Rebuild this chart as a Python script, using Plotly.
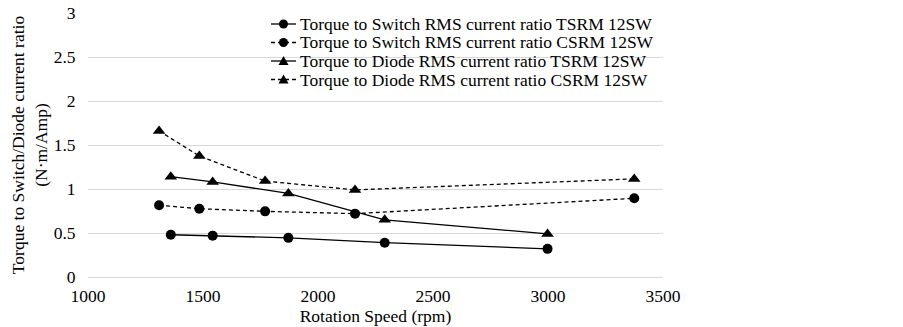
import plotly.graph_objects as go

x_tsrm = [1360, 1542, 1871, 2290, 2998]
x_csrm = [1309, 1484, 1770, 2161, 3375]
sw_tsrm = [0.48, 0.47, 0.445, 0.39, 0.32]
sw_csrm = [0.815, 0.776, 0.746, 0.72, 0.894]
di_tsrm = [1.14, 1.08, 0.95, 0.65, 0.49]
di_csrm = [1.66, 1.375, 1.09, 0.99, 1.115]

names = [
    "Torque to Switch RMS current ratio TSRM 12SW",
    "Torque to Switch RMS current ratio CSRM 12SW",
    "Torque to Diode RMS current ratio TSRM 12SW",
    "Torque to Diode RMS current ratio CSRM 12SW",
]

FONT = "Times New Roman, Liberation Serif, serif"
FS = 17.5
DASH = "4px,3px"
fig = go.Figure()
series = [
    (x_tsrm, sw_tsrm, "solid", "circle", 10),
    (x_csrm, sw_csrm, DASH, "circle", 10),
    (x_tsrm, di_tsrm, "solid", "triangle-up", 11),
    (x_csrm, di_csrm, DASH, "triangle-up", 11),
]
for (xs, ys, dash, sym, sz), nm in zip(series, names):
    fig.add_trace(go.Scatter(
        x=xs, y=ys, name=nm, mode="lines+markers",
        line=dict(color="black", width=1.3, dash=dash),
        marker=dict(color="black", symbol=sym, size=sz),
        showlegend=False,
    ))

# custom legend (compact rows like the reference)
L, R, T, B = 88, 240, 13, 50
W, H = 903 - L - R, 327 - T - B
def px(xp):
    return (xp - L) / W
def py(yp):
    return (327 - B - yp) / H

row_y = [24, 42.5, 61, 79.5]
shapes, annos = [], []
for (xs, ys, dash, sym, sz), nm, ry in zip(series, names, row_y):
    shapes.append(dict(type="line", xref="paper", yref="paper",
                       x0=px(271), x1=px(296), y0=py(ry), y1=py(ry),
                       line=dict(color="black", width=1.3, dash=dash)))
    if sym == "circle":
        shapes.append(dict(type="circle", xref="paper", yref="paper",
                           xsizemode="pixel", ysizemode="pixel",
                           xanchor=px(283.5), yanchor=py(ry),
                           x0=-4.5, x1=4.5, y0=-4.5, y1=4.5,
                           fillcolor="black", line=dict(color="black", width=0)))
    else:
        shapes.append(dict(type="path", xref="paper", yref="paper",
                           xsizemode="pixel", ysizemode="pixel",
                           xanchor=px(283.5), yanchor=py(ry),
                           path="M -5,-4 L 5,-4 L 0,5 Z",
                           fillcolor="black", line=dict(color="black", width=0)))
    annos.append(dict(text=nm, xref="paper", yref="paper", x=px(298), y=py(ry),
                      xanchor="left", yanchor="middle", showarrow=False,
                      font=dict(family=FONT, size=FS, color="black")))

fig.update_layout(
    width=903, height=327,
    margin=dict(l=L, r=R, t=T, b=B),
    paper_bgcolor="white", plot_bgcolor="white",
    font=dict(family=FONT, size=FS, color="black"),
    showlegend=False,
    shapes=shapes, annotations=annos,
    xaxis=dict(range=[1000, 3500], tickvals=[1000, 1500, 2000, 2500, 3000, 3500],
               showgrid=False, zeroline=False, showline=False,
               ticks="outside", ticklen=3, tickcolor="rgba(0,0,0,0)",
               tickfont=dict(family=FONT, size=FS),
               automargin=False,
               title=dict(text="Rotation Speed (rpm)", standoff=1,
                          font=dict(family=FONT, size=FS))),
    yaxis=dict(range=[0, 3], tickvals=[0, 0.5, 1, 1.5, 2, 2.5, 3],
               ticktext=["0", "0.5", "1", "1.5", "2", "2.5", "3"],
               showgrid=True, gridcolor="#d9d9d9", gridwidth=1,
               zeroline=True, zerolinecolor="#d9d9d9", zerolinewidth=1,
               showline=False, ticks="outside", ticklen=8, tickcolor="rgba(0,0,0,0)",
               tickfont=dict(family=FONT, size=FS),
               automargin=False,
               title=dict(text="Torque to Switch/Diode current ratio<br>(N·m/Amp)", standoff=1,
                          font=dict(family=FONT, size=FS))),
)
fig.write_html("out.html", config={"displayModeBar": False},
               post_script="document.body.style.margin='0';")
